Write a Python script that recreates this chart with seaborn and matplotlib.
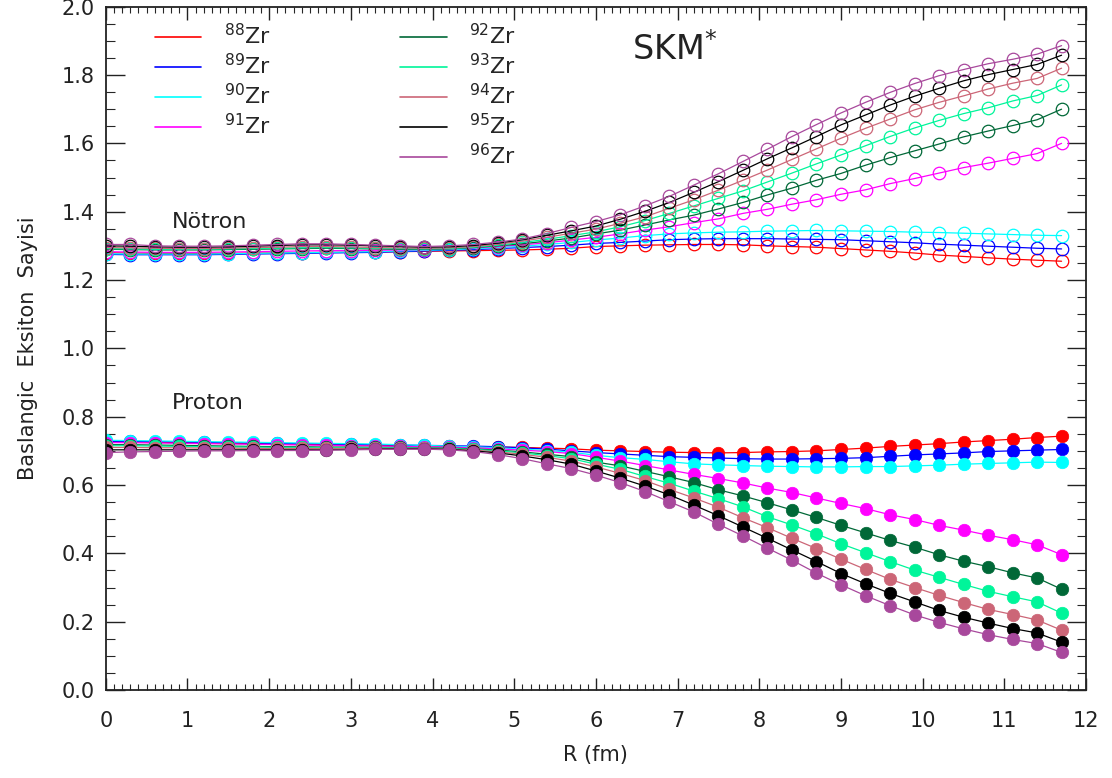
import matplotlib
matplotlib.use("Agg")
import matplotlib.pyplot as plt
import seaborn as sns
import pandas as pd
from matplotlib.lines import Line2D
from matplotlib.ticker import MultipleLocator

# ---------------- data ----------------
R = [0.0, 0.3, 0.6, 0.9, 1.2, 1.5, 1.8, 2.1, 2.4, 2.7,
     3.0, 3.3, 3.6, 3.9, 4.2, 4.5, 4.8, 5.1, 5.4, 5.7,
     6.0, 6.3, 6.6, 6.9, 7.2, 7.5, 7.8, 8.1, 8.4, 8.7,
     9.0, 9.3, 9.6, 9.9, 10.2, 10.5, 10.8, 11.1, 11.4, 11.7]

isotopes = ["88", "89", "90", "91", "92", "93", "94", "95", "96"]
colors = ["#ff0000", "#0000ff", "#00ffff", "#ff00ff", "#006837",
          "#00f59a", "#cc6677", "#000000", "#a8489c"]

neutron_88 = [1.280, 1.279, 1.278, 1.278, 1.278, 1.278, 1.279, 1.279, 1.280, 1.281,
              1.281, 1.282, 1.283, 1.284, 1.285, 1.286, 1.287, 1.288, 1.290, 1.293,
              1.298, 1.300, 1.302, 1.303, 1.304, 1.304, 1.303, 1.300, 1.298, 1.296,
              1.292, 1.288, 1.284, 1.279, 1.273, 1.269, 1.265, 1.261, 1.258, 1.255]
neutron_89 = [1.275, 1.274, 1.274, 1.274, 1.274, 1.275, 1.276, 1.277, 1.278, 1.279,
              1.280, 1.281, 1.283, 1.285, 1.287, 1.289, 1.292, 1.295, 1.298, 1.302,
              1.307, 1.310, 1.314, 1.318, 1.320, 1.321, 1.321, 1.321, 1.320, 1.319,
              1.318, 1.315, 1.312, 1.309, 1.305, 1.302, 1.299, 1.296, 1.293, 1.291]
neutron_90 = [1.277, 1.276, 1.276, 1.276, 1.276, 1.277, 1.278, 1.279, 1.280, 1.281,
              1.282, 1.283, 1.285, 1.287, 1.289, 1.292, 1.295, 1.299, 1.304, 1.310,
              1.317, 1.323, 1.330, 1.335, 1.338, 1.340, 1.341, 1.343, 1.344, 1.345,
              1.344, 1.343, 1.342, 1.340, 1.339, 1.337, 1.335, 1.333, 1.331, 1.330]
neutron_91 = [1.283, 1.282, 1.281, 1.281, 1.281, 1.282, 1.283, 1.284, 1.285, 1.286,
              1.286, 1.287, 1.288, 1.289, 1.291, 1.294, 1.298, 1.303, 1.309, 1.317,
              1.325, 1.335, 1.346, 1.356, 1.368, 1.379, 1.395, 1.407, 1.422, 1.435,
              1.451, 1.464, 1.482, 1.497, 1.513, 1.529, 1.542, 1.556, 1.570, 1.600]
neutron_92 = [1.290, 1.289, 1.288, 1.288, 1.288, 1.289, 1.290, 1.291, 1.292, 1.293,
              1.292, 1.291, 1.290, 1.290, 1.291, 1.295, 1.300, 1.306, 1.314, 1.323,
              1.335, 1.346, 1.361, 1.376, 1.390, 1.408, 1.427, 1.449, 1.469, 1.492,
              1.512, 1.536, 1.558, 1.578, 1.598, 1.619, 1.636, 1.652, 1.669, 1.700]
neutron_93 = [1.292, 1.291, 1.290, 1.290, 1.290, 1.291, 1.292, 1.293, 1.294, 1.295,
              1.294, 1.293, 1.292, 1.291, 1.292, 1.296, 1.302, 1.310, 1.319, 1.330,
              1.341, 1.356, 1.374, 1.395, 1.417, 1.439, 1.461, 1.487, 1.513, 1.540,
              1.566, 1.593, 1.620, 1.645, 1.667, 1.687, 1.704, 1.724, 1.740, 1.771]
neutron_94 = [1.295, 1.294, 1.293, 1.292, 1.292, 1.293, 1.295, 1.296, 1.298, 1.298,
              1.297, 1.295, 1.294, 1.293, 1.294, 1.298, 1.305, 1.314, 1.325, 1.337,
              1.349, 1.366, 1.385, 1.410, 1.435, 1.463, 1.492, 1.522, 1.553, 1.584,
              1.615, 1.644, 1.671, 1.698, 1.720, 1.739, 1.759, 1.776, 1.790, 1.820]
neutron_95 = [1.300, 1.299, 1.297, 1.296, 1.296, 1.297, 1.299, 1.301, 1.303, 1.303,
              1.302, 1.300, 1.298, 1.296, 1.297, 1.301, 1.308, 1.318, 1.331, 1.344,
              1.358, 1.378, 1.401, 1.427, 1.457, 1.488, 1.521, 1.555, 1.587, 1.620,
              1.654, 1.683, 1.712, 1.738, 1.761, 1.783, 1.801, 1.816, 1.831, 1.858]
neutron_96 = [1.304, 1.304, 1.300, 1.299, 1.299, 1.300, 1.302, 1.304, 1.306, 1.306,
              1.304, 1.302, 1.300, 1.298, 1.300, 1.304, 1.311, 1.320, 1.336, 1.354,
              1.371, 1.391, 1.417, 1.445, 1.478, 1.511, 1.547, 1.583, 1.620, 1.655,
              1.689, 1.720, 1.749, 1.775, 1.798, 1.816, 1.833, 1.846, 1.861, 1.886]

proton_88 = [0.726, 0.726, 0.725, 0.724, 0.723, 0.722, 0.721, 0.720, 0.719, 0.718,
             0.717, 0.716, 0.715, 0.714, 0.713, 0.712, 0.711, 0.710, 0.708, 0.706,
             0.702, 0.700, 0.698, 0.696, 0.695, 0.694, 0.695, 0.697, 0.698, 0.700,
             0.704, 0.708, 0.713, 0.717, 0.721, 0.726, 0.730, 0.734, 0.739, 0.743]
proton_89 = [0.728, 0.728, 0.727, 0.726, 0.725, 0.724, 0.723, 0.722, 0.721, 0.720,
             0.719, 0.718, 0.717, 0.716, 0.715, 0.714, 0.712, 0.709, 0.705, 0.700,
             0.695, 0.691, 0.687, 0.683, 0.681, 0.679, 0.677, 0.676, 0.676, 0.677,
             0.678, 0.680, 0.684, 0.688, 0.691, 0.694, 0.698, 0.700, 0.702, 0.704]
proton_90 = [0.731, 0.730, 0.729, 0.728, 0.727, 0.726, 0.725, 0.724, 0.723, 0.722,
             0.721, 0.720, 0.718, 0.716, 0.714, 0.712, 0.709, 0.705, 0.701, 0.696,
             0.687, 0.680, 0.675, 0.668, 0.662, 0.659, 0.657, 0.655, 0.654, 0.653,
             0.653, 0.654, 0.654, 0.656, 0.658, 0.661, 0.663, 0.665, 0.667, 0.666]
proton_91 = [0.724, 0.724, 0.723, 0.722, 0.721, 0.720, 0.719, 0.718, 0.717, 0.716,
             0.715, 0.714, 0.713, 0.712, 0.711, 0.709, 0.706, 0.702, 0.698, 0.692,
             0.681, 0.670, 0.657, 0.644, 0.631, 0.619, 0.606, 0.591, 0.578, 0.562,
             0.546, 0.531, 0.513, 0.499, 0.482, 0.468, 0.453, 0.440, 0.425, 0.396]
proton_92 = [0.718, 0.718, 0.717, 0.716, 0.715, 0.714, 0.713, 0.712, 0.712, 0.711,
             0.711, 0.710, 0.710, 0.709, 0.708, 0.706, 0.702, 0.697, 0.690, 0.683,
             0.667, 0.656, 0.640, 0.624, 0.607, 0.586, 0.568, 0.548, 0.527, 0.505,
             0.482, 0.460, 0.438, 0.418, 0.396, 0.377, 0.361, 0.343, 0.328, 0.295]
proton_93 = [0.715, 0.715, 0.714, 0.713, 0.712, 0.711, 0.711, 0.710, 0.710, 0.709,
             0.709, 0.709, 0.709, 0.708, 0.707, 0.704, 0.700, 0.694, 0.686, 0.677,
             0.661, 0.646, 0.625, 0.605, 0.582, 0.560, 0.536, 0.507, 0.483, 0.457,
             0.428, 0.402, 0.376, 0.351, 0.330, 0.309, 0.289, 0.273, 0.258, 0.225]
proton_94 = [0.710, 0.710, 0.709, 0.709, 0.708, 0.708, 0.707, 0.707, 0.707, 0.707,
             0.707, 0.707, 0.707, 0.707, 0.705, 0.702, 0.697, 0.690, 0.681, 0.670,
             0.653, 0.634, 0.613, 0.587, 0.562, 0.535, 0.504, 0.475, 0.444, 0.414,
             0.383, 0.353, 0.324, 0.300, 0.277, 0.256, 0.236, 0.221, 0.205, 0.175]
proton_95 = [0.703, 0.703, 0.703, 0.703, 0.703, 0.703, 0.703, 0.703, 0.703, 0.703,
             0.704, 0.705, 0.706, 0.706, 0.704, 0.700, 0.694, 0.685, 0.674, 0.661,
             0.641, 0.620, 0.597, 0.571, 0.541, 0.510, 0.477, 0.444, 0.410, 0.376,
             0.341, 0.311, 0.283, 0.258, 0.233, 0.213, 0.196, 0.180, 0.167, 0.140]
proton_96 = [0.695, 0.697, 0.698, 0.699, 0.700, 0.700, 0.701, 0.701, 0.701, 0.702,
             0.703, 0.704, 0.705, 0.705, 0.703, 0.698, 0.689, 0.677, 0.662, 0.648,
             0.629, 0.607, 0.581, 0.551, 0.521, 0.485, 0.451, 0.415, 0.380, 0.342,
             0.308, 0.276, 0.247, 0.220, 0.198, 0.179, 0.162, 0.148, 0.136, 0.110]

neutrons = [neutron_88, neutron_89, neutron_90, neutron_91, neutron_92,
            neutron_93, neutron_94, neutron_95, neutron_96]
protons = [proton_88, proton_89, proton_90, proton_91, proton_92,
           proton_93, proton_94, proton_95, proton_96]

x_ticks = [0, 1, 2, 3, 4, 5, 6, 7, 8, 9, 10, 11, 12]
y_ticks = [0.0, 0.2, 0.4, 0.6, 0.8, 1.0, 1.2, 1.4, 1.6, 1.8, 2.0]

# ---------------- figure ----------------
sns.set_style("ticks")
plt.rcParams["font.family"] = ["DejaVu Sans"]

fig = plt.figure(figsize=(11.12, 7.78), dpi=100)
ax = fig.add_axes([0.0951, 0.1131, 0.8816, 0.8783])

rows = []
for iso, nv, pv in zip(isotopes, neutrons, protons):
    for r, v in zip(R, nv):
        rows.append({"R": r, "value": v, "iso": iso, "kind": "n"})
    for r, v in zip(R, pv):
        rows.append({"R": r, "value": v, "iso": iso, "kind": "p"})
df = pd.DataFrame(rows)

for iso, col in zip(isotopes, colors):
    sub_n = df[(df.iso == iso) & (df.kind == "n")]
    sns.lineplot(data=sub_n, x="R", y="value", ax=ax, color=col, lw=0.9,
                 marker="o", markersize=9, markerfacecolor="none",
                 markeredgecolor=col, markeredgewidth=0.9,
                 sort=False, errorbar=None, legend=False)
    sub_p = df[(df.iso == iso) & (df.kind == "p")]
    sns.lineplot(data=sub_p, x="R", y="value", ax=ax, color=col, lw=0.9,
                 marker="o", markersize=9, markerfacecolor=col,
                 markeredgecolor=col, markeredgewidth=0.5,
                 sort=False, errorbar=None, legend=False)

ax.set_xlim(0, 12)
ax.set_ylim(0, 2.0)
ax.set_xticks(x_ticks)
ax.set_yticks(y_ticks)
ax.set_yticklabels([f"{t:.1f}" for t in y_ticks])
ax.xaxis.set_minor_locator(MultipleLocator(0.1))
ax.yaxis.set_minor_locator(MultipleLocator(0.05))
ax.tick_params(axis="x", which="major", direction="in", length=9, width=1.0,
               top=True, bottom=True, labelsize=15, pad=15, colors="#222222")
ax.tick_params(axis="x", which="minor", direction="in", length=4.5, width=0.8,
               top=True, bottom=True)
ax.tick_params(axis="y", which="major", direction="in", length=13.5, width=1.0,
               left=True, right=True, labelsize=15, pad=8, colors="#222222")
ax.tick_params(axis="y", which="minor", direction="in", length=6.5, width=0.8,
               left=True, right=True)
for s in ax.spines.values():
    s.set_linewidth(1.3)
    s.set_color("#222222")

ax.set_xlabel("R (fm)", fontsize=15, color="#222222", labelpad=10)
ax.set_ylabel("Baslangic  Eksiton  Sayisi", fontsize=15, color="#222222", labelpad=17)

ax.text(6.44, 1.845, r"SKM$^{*}$", fontsize=24, color="#222222")
ax.text(0.81, 1.353, "Nötron", fontsize=16, color="#222222")
ax.text(0.81, 0.823, "Proton", fontsize=16, color="#222222")

handles = [Line2D([], [], color=c, lw=1.2) for c in colors]
labels = [rf"$^{{{i}}}$Zr" for i in isotopes]
leg1 = ax.legend(handles[:4], labels[:4], loc="upper left",
                 bbox_to_anchor=(0.050, 0.976), frameon=False, fontsize=16,
                 handlelength=2.1, handletextpad=1.0, labelspacing=0.22,
                 borderpad=0, borderaxespad=0)
ax.add_artist(leg1)
ax.legend(handles[4:], labels[4:], loc="upper left",
          bbox_to_anchor=(0.300, 0.976), frameon=False, fontsize=16,
          handlelength=2.1, handletextpad=1.0, labelspacing=0.22,
          borderpad=0, borderaxespad=0)

fig.savefig("out.png", dpi=100)
